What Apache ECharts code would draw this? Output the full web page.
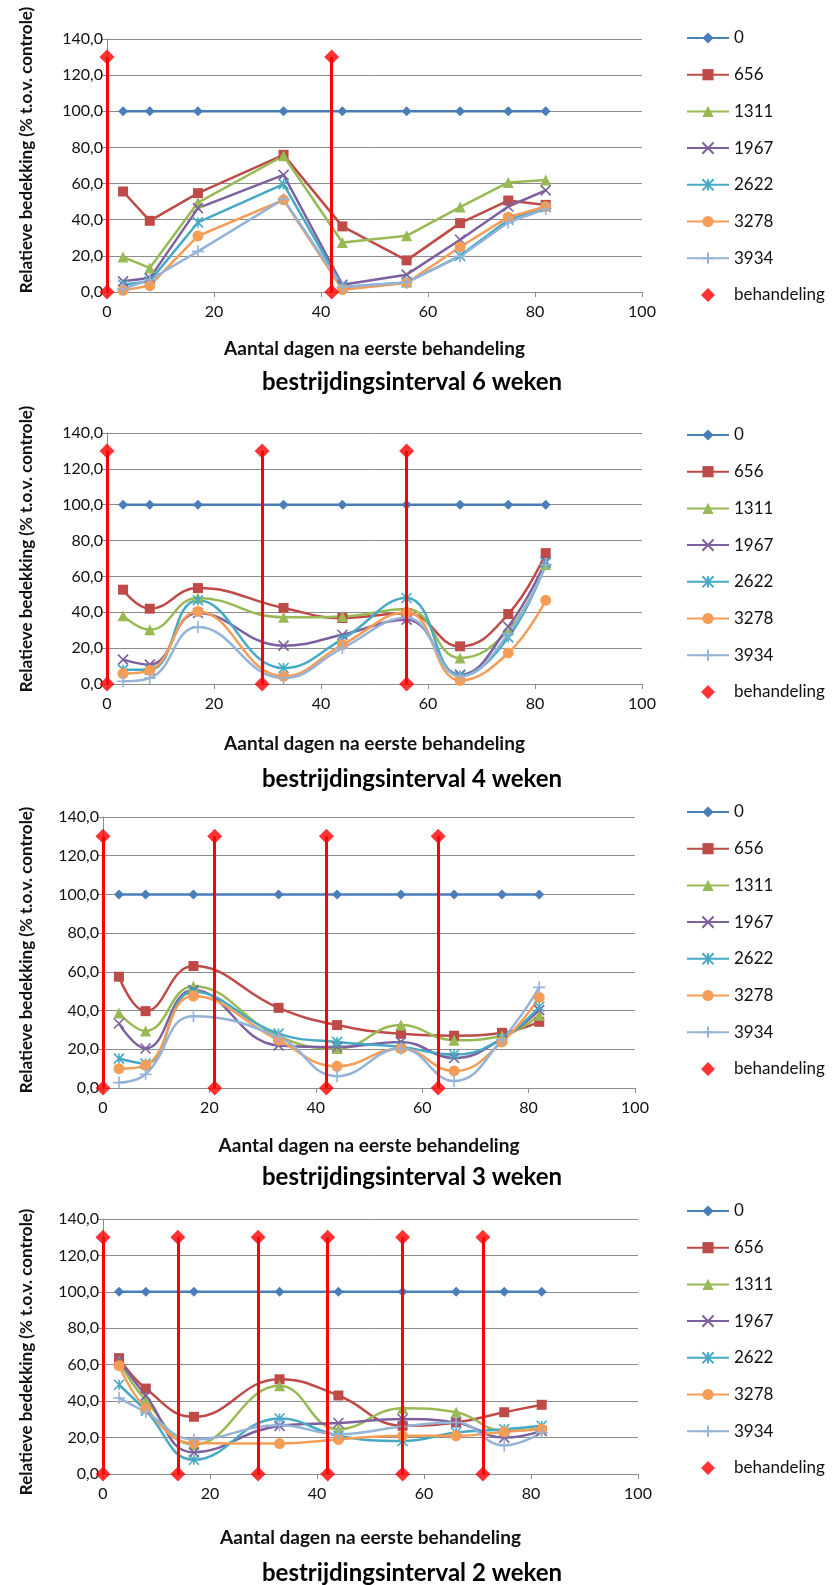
<!DOCTYPE html>
<html>
<head>
<meta charset="utf-8">
<script src="https://cdn.jsdelivr.net/npm/echarts@6/dist/echarts.min.js"></script>
<style>
  html, body { margin: 0; padding: 0; background: #ffffff; }
  #chart { width: 838px; height: 1585px; }
</style>
</head>
<body>
<div id="chart"></div>
<script>
// Sampling days after the first treatment
const days = [3, 8, 17, 33, 44, 56, 66, 75, 82];
// Dose series (legend order)
const doseNames = ['0', '656', '1311', '1967', '2622', '3278', '3934'];
const treatmentName = 'behandeling';

// Relative cover (% of control), one row per dose, per treatment interval
const cover6wk = [
  [100, 100, 100, 100, 100, 100, 100, 100, 100],
  [55.6, 39.4, 54.7, 75.9, 36.3, 17.5, 38.1, 50.6, 48.2],
  [19.3, 13.3, 49.5, 75.4, 27.4, 31.1, 47.0, 60.6, 62.0],
  [5.9, 7.7, 46.4, 64.8, 4.0, 9.6, 28.9, 47.3, 56.2],
  [4.0, 6.0, 38.5, 59.7, 2.8, 5.3, 20.0, 40.0, 47.0],
  [0.9, 3.5, 31.0, 51.0, 1.3, 5.0, 24.9, 41.4, 47.3],
  [1.7, 6.8, 22.5, 51.4, 2.8, 5.3, 19.7, 38.5, 45.9]
];
const cover4wk = [
  [100, 100, 100, 100, 100, 100, 100, 100, 100],
  [52.6, 42.0, 53.5, 42.4, 36.8, 39.5, 21.0, 39.0, 73.0],
  [38.1, 30.3, 48.0, 37.2, 37.7, 41.8, 14.5, 30.0, 66.6],
  [13.6, 10.8, 39.6, 21.4, 27.5, 35.9, 5.2, 32.0, 68.4],
  [8.0, 8.0, 46.7, 8.9, 25.0, 48.0, 4.6, 26.0, 67.5],
  [5.8, 7.6, 40.5, 4.3, 21.9, 40.0, 2.0, 17.3, 46.7],
  [1.5, 3.3, 31.8, 3.3, 20.0, 37.0, 4.3, 28.0, 66.6]
];
const cover3wk = [
  [100, 100, 100, 100, 100, 100, 100, 100, 100],
  [57.5, 39.7, 63.0, 41.4, 32.5, 28.0, 27.0, 28.5, 34.2],
  [38.8, 29.5, 52.6, 26.8, 20.4, 32.5, 24.7, 27.0, 37.6],
  [33.3, 20.4, 50.6, 22.0, 21.2, 23.8, 15.5, 25.5, 40.2],
  [15.2, 12.6, 49.7, 28.1, 23.8, 21.2, 17.3, 25.5, 42.0],
  [10.0, 11.7, 47.5, 24.7, 11.2, 20.4, 8.8, 23.8, 46.8],
  [2.8, 7.1, 37.1, 26.4, 6.1, 20.4, 3.6, 25.0, 52.0]
];
const cover2wk = [
  [100, 100, 100, 100, 100, 100, 100, 100, 100],
  [63.6, 46.9, 31.4, 52.0, 43.1, 26.5, 28.3, 33.9, 38.0],
  [61.8, 40.4, 16.2, 48.4, 24.6, 36.1, 33.9, 23.7, 25.0],
  [62.7, 43.0, 11.9, 26.4, 28.0, 30.2, 28.3, 20.0, 23.7],
  [49.0, 34.8, 7.8, 30.5, 21.0, 18.1, 22.8, 24.6, 26.5],
  [59.5, 36.0, 17.0, 16.7, 19.0, 21.0, 21.0, 23.1, 24.6],
  [41.7, 33.9, 19.0, 26.8, 21.9, 26.1, 28.3, 15.7, 22.8]
];

// Treatment days per interval, drawn as bars from low to high
const treat6wk = [0, 42];
const treat4wk = [0, 29, 56];
const treat3wk = [0, 21, 42, 63];
const treat2wk = [0, 14, 29, 42, 56, 71];
const treatLow = 0;
const treatHigh = 130;

// Axis ranges and tick spacing
const xMin = 0, xMax = 100, xStep = 20;
const yMin = 0, yMax = 140, yStep = 20;

const panelTitles = [
  'bestrijdingsinterval 6 weken',
  'bestrijdingsinterval 4 weken',
  'bestrijdingsinterval 3 weken',
  'bestrijdingsinterval 2 weken'
];
const xAxisTitle = 'Aantal dagen na eerste behandeling';
const yAxisTitle = 'Relatieve bedekking (% t.o.v. controle)';

const panelCover = [cover6wk, cover4wk, cover3wk, cover2wk];
const panelTreat = [treat6wk, treat4wk, treat3wk, treat2wk];

// ---- styling / layout ----
const FONT = 'Lato, "Open Sans", sans-serif';
const TEXT = '#111111';
const GRIDC = '#8c8c8c';
const colors = ['#4A7EBB', '#BE4B48', '#98B954', '#7D60A0', '#46AAC5', '#F59D56', '#95B3D7'];
const crossPath = 'path://M0,0L10,10M10,0L0,10';
const starPath = 'path://M0,0L10,10M10,0L0,10M5,0L5,10';
const plusPath = 'path://M5,0L5,10M0,5L10,5';
const symbols = ['diamond', 'rect', 'triangle', crossPath, starPath, 'circle', plusPath];
const symbolSizes = [10, 10, 11, 10, 10, 11, 12];
const strokedSymbol = [false, false, false, true, true, false, true];
// legend icon for the treatment marker: a diamond centred in a wide box (keeps its shape)
const treatLegendIcon = 'path://M0,7L0.01,7M21,0L28,7L21,14L14,7ZM42,7L41.99,7';

const layouts = [
  { left: 107, top: 39, width: 535, height: 253, legendTop: 29.5, xNameGap: 47, yNameY: 150, titleY: 382 },
  { left: 107, top: 433, width: 535, height: 251, legendTop: 426.5, xNameGap: 50, yNameY: 549, titleY: 779 },
  { left: 103, top: 817, width: 532, height: 271, legendTop: 803.5, xNameGap: 48, yNameY: 950, titleY: 1177 },
  { left: 103, top: 1219, width: 535, height: 255, legendTop: 1202.5, xNameGap: 54, yNameY: 1352, titleY: 1573 }
];

const option = {
  animation: false,
  backgroundColor: '#ffffff',
  textStyle: { fontFamily: FONT },
  grid: [], xAxis: [], yAxis: [], legend: [], series: [], graphic: []
};

layouts.forEach((L, p) => {
  option.grid.push({ left: L.left, top: L.top, width: L.width, height: L.height });
  option.xAxis.push({
    gridIndex: p, type: 'value', min: xMin, max: xMax, interval: xStep,
    axisLine: { show: true, onZero: false, lineStyle: { color: GRIDC, width: 1 } },
    axisTick: { show: true, length: 5, lineStyle: { color: GRIDC } },
    axisLabel: { fontSize: 16, color: TEXT, margin: 12, fontFamily: FONT },
    splitLine: { show: false },
    name: xAxisTitle, nameLocation: 'middle', nameGap: L.xNameGap,
    nameTextStyle: { fontSize: 19, fontWeight: 'bold', color: TEXT, fontFamily: FONT }
  });
  option.yAxis.push({
    gridIndex: p, type: 'value', min: yMin, max: yMax, interval: yStep,
    axisLine: { show: true, lineStyle: { color: GRIDC, width: 1 } },
    axisTick: { show: true, length: 5, lineStyle: { color: GRIDC } },
    axisLabel: {
      fontSize: 16, color: TEXT, margin: 4, fontFamily: FONT,
      formatter: v => v.toFixed(1).replace('.', ',')
    },
    splitLine: { show: true, lineStyle: { color: GRIDC, width: 1 } }
  });
  option.legend.push({
    orient: 'vertical', left: 686, top: L.legendTop, padding: 0,
    itemWidth: 42, itemHeight: 14, itemGap: 19.7,
    selectedMode: false,
    data: doseNames.map(n => ({ name: n })).concat([{ name: treatmentName, icon: treatLegendIcon }]),
    textStyle: { fontSize: 17, color: TEXT, fontFamily: FONT }
  });

  const rows = panelCover[p];
  doseNames.forEach((name, s) => {
    option.series.push({
      type: 'line', name: name, xAxisIndex: p, yAxisIndex: p,
      data: days.map((d, k) => [d, rows[s][k]]),
      smooth: p === 0 ? false : 0.45,
      symbol: symbols[s], symbolSize: symbolSizes[s],
      lineStyle: { color: colors[s], width: 2.5 },
      itemStyle: strokedSymbol[s]
        ? { color: colors[s], borderColor: colors[s], borderWidth: 1.6 }
        : { color: colors[s] },
      emphasis: { disabled: true },
      silent: true
    });
  });

  const tdays = panelTreat[p];
  const pts = [];
  tdays.forEach(t => { pts.push([t, treatLow]); pts.push([t, treatHigh]); });
  option.series.push({
    type: 'scatter', name: treatmentName, xAxisIndex: p, yAxisIndex: p,
    data: pts, symbol: 'diamond', symbolSize: 15,
    itemStyle: { color: '#FF0000' },
    z: 3, silent: true,
    markLine: {
      silent: true, symbol: ['none', 'none'],
      lineStyle: { color: '#FF0000', width: 3, type: 'solid' },
      label: { show: false },
      emphasis: { disabled: true },
      data: tdays.map(t => [{ coord: [t, treatLow] }, { coord: [t, treatHigh] }])
    }
  });

  option.graphic.push({
    type: 'text', x: 27, y: L.yNameY, rotation: Math.PI / 2,
    style: { text: yAxisTitle, fontSize: 17, fontWeight: 'bold', fill: TEXT, fontFamily: FONT, align: 'center', verticalAlign: 'middle' }
  });
  option.graphic.push({
    type: 'text', x: 412, y: L.titleY,
    style: { text: panelTitles[p], fontSize: 24, fontWeight: 'bold', fill: '#000000', fontFamily: FONT, align: 'center', verticalAlign: 'middle' }
  });
});

const chart = echarts.init(document.getElementById('chart'), null, { renderer: 'canvas' });
chart.setOption(option);
</script>
</body>
</html>
